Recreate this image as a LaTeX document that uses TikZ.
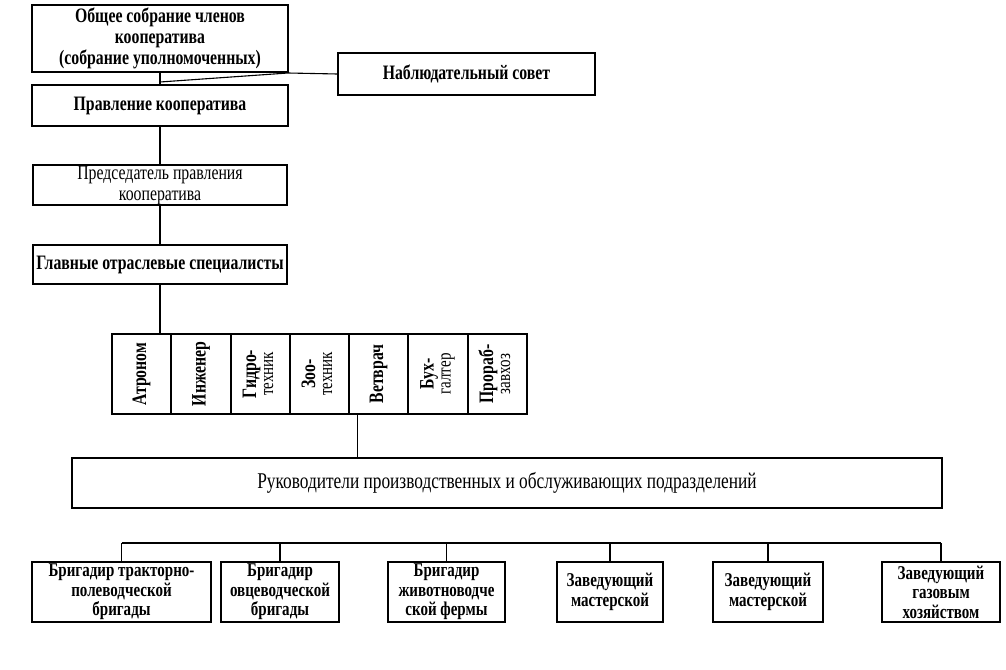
\documentclass[tikz,border=0pt]{standalone}
\usepackage{fontspec}
\setmainfont{Liberation Serif}[FakeStretch=0.77]
\begin{document}
\begin{tikzpicture}[x=1pt,y=-1pt,
  box/.style={draw, line width=1.1pt, inner sep=0pt, align=center,
    font=\fontsize{20.5}{21}\selectfont\bfseries},
  plain/.style={box, font=\fontsize{20.5}{21}\selectfont},
  spec/.style={box, minimum width=59pt, minimum height=80pt},
  brig/.style={box, minimum height=60pt, font=\fontsize{19.5}{19.5}\selectfont\bfseries},
  conn/.style={line width=1.1pt}]
\useasboundingbox (0,0) rectangle (1006,669);

\node[box, minimum width=256pt, minimum height=67pt] (gen) at (160,38.5)
  {Общее собрание членов\\кооператива\\(собрание уполномоченных)};
\node[box, minimum width=257pt, minimum height=42pt] (council) at (466.5,74)
  {Наблюдательный совет};
\node[box, minimum width=256pt, minimum height=41pt] (board) at (160,105.5)
  {Правление кооператива};
\node[plain, minimum width=254pt, minimum height=40pt] (chair) at (160,185)
  {Председатель правления\\кооператива};
\node[box, minimum width=254pt, minimum height=39pt] (chief) at (160,264.5)
  {Главные отраслевые специалисты};

\newcommand{\twol}[2]{\rotatebox{90}{\begin{tabular}{@{}c@{}}#1\\[-4pt]{\mdseries\fontsize{19.5}{19.5}\selectfont #2}\end{tabular}}}
\node[spec] (s1) at (141.5,374) {\rotatebox{90}{Атроном}};
\node[spec] (s2) at (201,374) {\rotatebox{90}{Инженер}};
\node[spec] (s3) at (260.5,374) {\twol{Гидро-}{техник}};
\node[spec] (s4) at (319.5,374) {\twol{Зоо-}{техник}};
\node[spec] (s5) at (378.5,374) {\rotatebox{90}{Ветврач}};
\node[spec] (s6) at (438,374) {\twol{Бух-}{галтер}};
\node[spec] (s7) at (497.5,374) {\twol{Прораб-}{завхоз}};

\node[plain, minimum width=870pt, minimum height=50pt,
  font=\fontsize{22.5}{24}\selectfont] (heads) at (507,483)
  {Руководители производственных и обслуживающих подразделений};

\node[brig, minimum width=179pt] (b1) at (121.5,592) {Бригадир тракторно-\\полеводческой\\бригады};
\node[brig, minimum width=118pt] (b2) at (280,592) {Бригадир\\овцеводческой\\бригады};
\node[brig, minimum width=117pt] (b3) at (446.5,592) {Бригадир\\животноводче\\ской фермы};
\node[brig, minimum width=106pt] (b4) at (610,592) {Заведующий\\мастерской};
\node[brig, minimum width=110pt] (b5) at (768,592) {Заведующий\\мастерской};
\node[brig, minimum width=118pt] (b6) at (941,592) {Заведующий\\газовым\\хозяйством};

\coordinate (jn) at (160,82);
\coordinate (bus) at (0,543);

\draw[conn] (gen.south) -- (board.north);
\draw[conn] (council.west) -- (288,73) -- (jn);
\draw[conn] (board.south) -- (chair.north);
\draw[conn] (chair.south) -- (chief.north);
\draw[conn] (chief.south) -- (chief.south |- s1.north);
\draw[conn] ([xshift=9pt]s5.south west) -- ([xshift=9pt]s5.south west |- heads.north);
\draw[conn] (b1.north |- bus) -- (b6.north |- bus);
\foreach \b in {b1,b2,b3,b4,b5,b6}
  \draw[conn] (\b.north) -- (\b.north |- bus);
\end{tikzpicture}
\end{document}
